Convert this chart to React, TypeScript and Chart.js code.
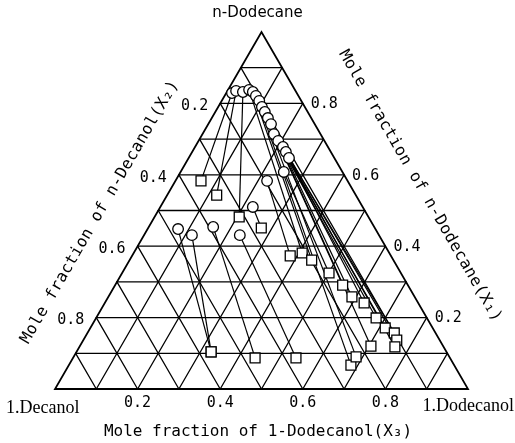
import React, { useEffect, useRef } from "react";
import { Chart, registerables } from "chart.js";

Chart.register(...registerables);

// Ternary data: X1 = n-Dodecane, X3 = 1-Dodecanol (X2 = n-Decanol = 1 - X1 - X3)
// Dodecane-rich phase (circles)
const circleX1 = [0.829, 0.835, 0.832, 0.838, 0.832, 0.821, 0.807, 0.790, 0.776, 0.759, 0.742, 0.714, 0.695, 0.678, 0.664, 0.647, 0.608, 0.583, 0.510, 0.448, 0.431, 0.454, 0.431];
const circleX3 = [0.014, 0.021, 0.039, 0.051, 0.063, 0.076, 0.091, 0.106, 0.120, 0.136, 0.152, 0.173, 0.193, 0.213, 0.227, 0.243, 0.250, 0.222, 0.224, 0.074, 0.116, 0.156, 0.232];
// Alcohol-rich phase (squares), tie-line partners of the circles above
const squareX1 = [0.583, 0.543, 0.482, 0.381, 0.361, 0.067, 0.090, 0.291, 0.120, 0.258, 0.241, 0.199, 0.171, 0.157, 0.137, 0.118, 0.325, 0.373, 0.451, 0.104, 0.104, 0.087, 0.087];
const squareX3 = [0.062, 0.120, 0.205, 0.408, 0.441, 0.683, 0.684, 0.551, 0.705, 0.590, 0.628, 0.678, 0.714, 0.743, 0.759, 0.764, 0.501, 0.383, 0.274, 0.326, 0.326, 0.441, 0.540];

const tickValues = [0.2, 0.4, 0.6, 0.8];
const gridValues = [0.1, 0.2, 0.3, 0.4, 0.5, 0.6, 0.7, 0.8, 0.9];

const topLabel = "n-Dodecane";
const leftCornerLabel = "1.Decanol";
const rightCornerLabel = "1.Dodecanol";
const bottomTitle = "Mole fraction of 1-Dodecanol(X\u2083)";
const leftTitle = "Mole fraction of n-Decanol(X\u2082)";
const rightTitle = "Mole fraction of n-Dodecane(X\u2081)";

const H = Math.sqrt(3) / 2;
const toXY = (x1: number, x3: number) => ({ x: x3 + x1 / 2, y: x1 * H });

const ternaryPlugin = {
  id: "ternary",
  beforeDatasetsDraw(chart: any) {
    const { ctx } = chart;
    const xs = chart.scales.x;
    const ys = chart.scales.y;
    const P = (p: { x: number; y: number }) => [xs.getPixelForValue(p.x), ys.getPixelForValue(p.y)];
    const seg = (a: any, b: any, w: number) => {
      const [ax, ay] = P(a);
      const [bx, by] = P(b);
      ctx.beginPath();
      ctx.lineWidth = w;
      ctx.moveTo(ax, ay);
      ctx.lineTo(bx, by);
      ctx.stroke();
    };
    ctx.save();
    ctx.strokeStyle = "#000";
    ctx.lineCap = "round";
    for (const c of gridValues) {
      seg({ x: c / 2, y: c * H }, { x: 1 - c / 2, y: c * H }, 1.3);
      seg({ x: c, y: 0 }, { x: c + (1 - c) / 2, y: (1 - c) * H }, 1.3);
      seg({ x: 1 - c, y: 0 }, { x: (1 - c) / 2, y: (1 - c) * H }, 1.3);
    }
    const A = P({ x: 0, y: 0 });
    const B = P({ x: 1, y: 0 });
    const C = P({ x: 0.5, y: H });
    ctx.beginPath();
    ctx.lineWidth = 1.8;
    ctx.lineJoin = "miter";
    ctx.moveTo(A[0], A[1]);
    ctx.lineTo(B[0], B[1]);
    ctx.lineTo(C[0], C[1]);
    ctx.closePath();
    ctx.stroke();
    ctx.restore();
  },
  afterDraw(chart: any) {
    const { ctx } = chart;
    const xs = chart.scales.x;
    const ys = chart.scales.y;
    const P = (p: { x: number; y: number }) => [xs.getPixelForValue(p.x), ys.getPixelForValue(p.y)];
    ctx.save();
    ctx.fillStyle = "#000";
    ctx.textBaseline = "middle";
    ctx.font = "15px 'DejaVu Sans Mono'";
    ctx.textAlign = "center";
    for (const t of tickValues) {
      const [px, py] = P({ x: t, y: 0 });
      ctx.fillText(t.toFixed(1), px, py + 14);
    }
    ctx.textAlign = "right";
    for (const t of tickValues) {
      const [px, py] = P(toXY(1 - t, 0));
      ctx.fillText(t.toFixed(1), px - 12, py + 3);
    }
    ctx.textAlign = "left";
    for (const t of tickValues) {
      const [px, py] = P(toXY(t, 1 - t));
      ctx.fillText(t.toFixed(1), px + 8, py + 1);
    }
    const A = P({ x: 0, y: 0 });
    const B = P({ x: 1, y: 0 });
    const C = P({ x: 0.5, y: H });
    ctx.font = "18px 'Liberation Serif'";
    ctx.textAlign = "left";
    ctx.fillText(leftCornerLabel, 6, A[1] + 19);
    ctx.textAlign = "right";
    ctx.fillText(rightCornerLabel, 514, B[1] + 17);
    ctx.font = "15px 'DejaVu Sans'";
    ctx.textAlign = "center";
    ctx.fillText(topLabel, C[0] - 4, 13);
    ctx.font = "16px 'DejaVu Sans Mono'";
    ctx.textAlign = "center";
    ctx.fillText(bottomTitle, 258, 432);
    (ctx as any).letterSpacing = "0.4px";
    ctx.save();
    ctx.translate(100, 212);
    ctx.rotate(-Math.PI / 3);
    ctx.fillText(leftTitle, 0, 0);
    ctx.restore();
    ctx.save();
    ctx.translate(420, 186);
    ctx.rotate(Math.PI / 3);
    ctx.fillText(rightTitle, 0, 0);
    ctx.restore();
    (ctx as any).letterSpacing = "0px";
    ctx.restore();
  },
};

export default function App() {
  const ref = useRef<HTMLCanvasElement | null>(null);
  useEffect(() => {
    if (!ref.current) return;
    const tieLines = circleX1.map((x1, i) => ({
      type: "line" as const,
      data: [toXY(x1, circleX3[i]), toXY(squareX1[i], squareX3[i])],
      showLine: true,
      borderColor: "#000",
      borderWidth: 1.2,
      pointRadius: 0,
      fill: false,
      order: 2,
      clip: false as any,
    }));
    const chart = new Chart(ref.current, {
      type: "scatter",
      data: {
        datasets: [
          ...tieLines,
          {
            type: "scatter",
            label: "n-Dodecane-rich phase",
            data: circleX1.map((x1, i) => toXY(x1, circleX3[i])),
            pointStyle: "circle",
            pointRadius: 5.3,
            backgroundColor: "#fff",
            borderColor: "#000",
            borderWidth: 1.3,
            order: 0,
            clip: false as any,
          },
          {
            type: "scatter",
            label: "alcohol-rich phase",
            data: squareX1.map((x1, i) => toXY(x1, squareX3[i])),
            pointStyle: "rect",
            pointRadius: 7,
            backgroundColor: "#fff",
            borderColor: "#000",
            borderWidth: 1.3,
            order: 1,
            clip: false as any,
          },
        ] as any,
      },
      options: {
        responsive: false,
        animation: false,
        layout: { padding: { left: 55, right: 47, top: 32, bottom: 54 } },
        plugins: { legend: { display: false }, tooltip: { enabled: false }, title: { display: false } },
        scales: {
          x: { type: "linear", min: 0, max: 1, display: false },
          y: { type: "linear", min: 0, max: H, display: false },
        },
      },
      plugins: [ternaryPlugin],
    });
    return () => chart.destroy();
  }, []);
  return (
    <div style={{ position: "absolute", left: 0, top: 0, width: 515, height: 443, background: "#fff" }}>
      <canvas ref={ref} width={515} height={443} style={{ display: "block" }} />
    </div>
  );
}
